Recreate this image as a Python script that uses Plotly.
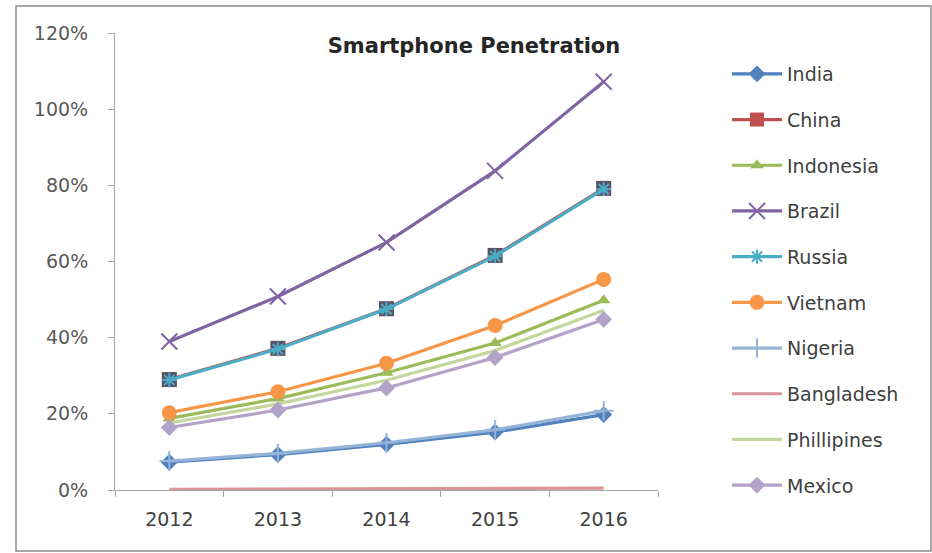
import plotly.graph_objects as go

years = ["2012", "2013", "2014", "2015", "2016"]

india = [7.3, 9.3, 12.0, 15.2, 19.8]
china = [29.0, 37.2, 47.6, 61.6, 79.2]
indonesia = [18.8, 24.0, 30.8, 38.6, 49.8]
brazil = [39.0, 50.8, 65.0, 83.8, 107.2]
russia = [28.9, 37.0, 47.5, 61.4, 79.0]
vietnam = [20.3, 25.8, 33.3, 43.2, 55.3]
nigeria = [7.6, 9.6, 12.4, 15.8, 20.8]
bangladesh = [0.2, 0.25, 0.3, 0.4, 0.5]
philippines = [17.6, 22.6, 28.8, 36.6, 47.2]
mexico = [16.4, 21.0, 26.8, 34.8, 44.8]

series = [
    ("India", india, "#4F81BD", "diamond", 13),
    ("China", china, "#C0504D", "square", 14),
    ("Indonesia", indonesia, "#9BBB59", "triangle-up", 12),
    ("Brazil", brazil, "#8064A2", "x-thin-open", 16),
    ("Russia", russia, "#4BACC6", "asterisk-open", 12),
    ("Vietnam", vietnam, "#F79646", "circle", 15),
    ("Nigeria", nigeria, "#95B3D7", "cross-thin-open", 14),
    ("Bangladesh", bangladesh, "#D99694", None, 0),
    ("Phillipines", philippines, "#C3D69B", None, 0),
    ("Mexico", mexico, "#B3A2C7", "diamond", 13),
]

fig = go.Figure()
for name, vals, color, sym, size in series:
    yv = [v / 100 for v in vals]
    if sym is None:
        fig.add_trace(go.Scatter(x=years, y=yv, name=name, mode="lines",
                                 line=dict(color=color, width=3.2),
                                 legendgroup=name))
    else:
        marker = dict(symbol=sym, size=size, color=color)
        if sym.endswith("open"):
            marker["line"] = dict(color=color, width=2)
        fig.add_trace(go.Scatter(x=years, y=yv, name=name, mode="lines+markers",
                                 line=dict(color=color, width=3.2), marker=marker,
                                 legendgroup=name))
    if name == "China":
        # blended look of overlapping China/Russia squares
        fig.add_trace(go.Scatter(x=years, y=yv, mode="markers", showlegend=False,
                                 marker=dict(symbol="square", size=15, color="#5C5266"),
                                 hoverinfo="skip"))

L, R, T, B = 115, 658, 33, 490
pw, ph = R - L, B - T

fig.update_layout(
    width=932, height=553,
    margin=dict(l=L, r=932 - R, t=T, b=553 - B, autoexpand=False),
    paper_bgcolor="white", plot_bgcolor="white",
    font=dict(family="DejaVu Sans", color="#404040"),
    title=dict(text="<b>Smartphone Penetration</b>", x=474 / 932, xanchor="center",
               y=1 - 46 / 553, yanchor="middle",
               font=dict(size=21, color="#262626", family="DejaVu Sans")),
    legend=dict(x=(727 - L) / pw, xanchor="left", y=(B - 55) / ph, yanchor="top",
                font=dict(size=19, color="#404040"), itemwidth=50,
                tracegroupgap=18, bgcolor="rgba(0,0,0,0)", maxheight=700),
    showlegend=True,
)
fig.update_yaxes(range=[0, 1.2], dtick=0.2, tickformat=".0%", showgrid=False,
                 showline=True, linecolor="#A6A6A6", linewidth=1,
                 ticks="outside", ticklen=6, tickcolor="#A6A6A6",
                 tickfont=dict(size=19, color="#595959"), ticklabelstandoff=16,
                 zeroline=False)
fig.update_xaxes(type="category", range=[-0.5, 4.5], showgrid=False,
                 showline=True, linecolor="#A6A6A6", linewidth=1,
                 ticks="outside", ticklen=6, tickcolor="#A6A6A6", tickson="boundaries",
                 tickfont=dict(size=19, color="#404040"), ticklabelstandoff=12)

fig.add_shape(type="rect", xref="paper", yref="paper",
              x0=(16 - L) / pw, x1=(931 - L) / pw,
              y0=(B - 551) / ph, y1=(B - 6) / ph,
              line=dict(color="#8C8C8C", width=1.5), fillcolor="rgba(0,0,0,0)",
              layer="below")

fig.write_html("out.html", post_script="document.body.style.margin='0';",
               config={"displayModeBar": False})
